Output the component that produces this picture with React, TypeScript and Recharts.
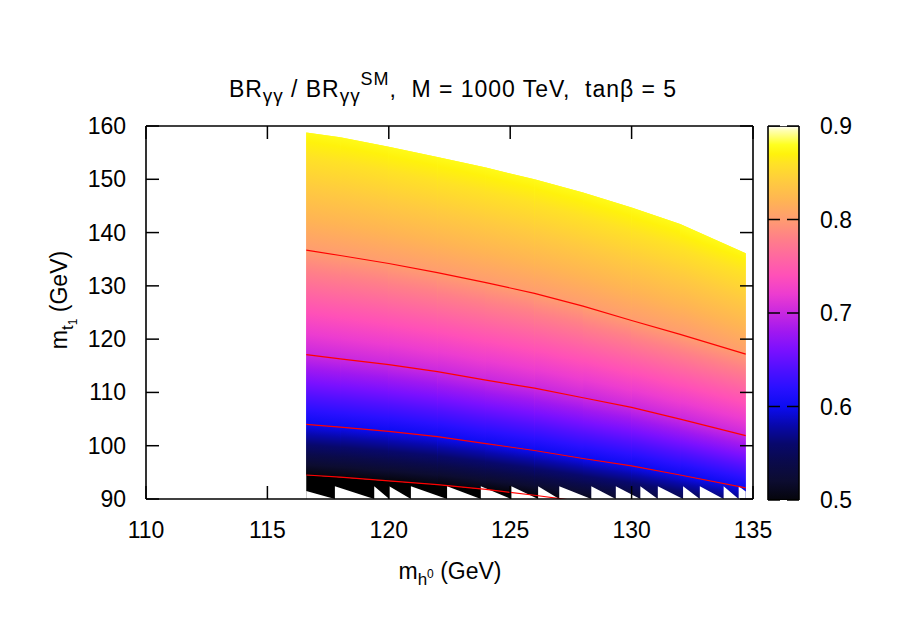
import React from 'react';
import { ComposedChart, Area, Line, Bar, XAxis, YAxis } from 'recharts';

const FONT = '"Liberation Sans", Arial, Helvetica, sans-serif';

// axis ticks
const xTicks = [110, 115, 120, 125, 130, 135];
const yTicks = [90, 100, 110, 120, 130, 140, 150, 160];
const cbTicks = [0.5, 0.6, 0.7, 0.8, 0.9];

// m_h0 columns where the surface was read
const mh = [116.6, 118, 120, 122, 124, 126, 128, 130, 132, 134.7];
// upper edge of the scanned region
const topEdge = [158.8, 157.9, 156.1, 154.2, 152.2, 150.0, 147.5, 144.7, 141.6, 136.1];
// contour lines of BR/BR_SM
const c80 = [136.7, 135.7, 134.2, 132.5, 130.6, 128.6, 126.2, 123.5, 120.9, 117.2];
const c70 = [117.1, 116.3, 115.2, 113.9, 112.3, 110.8, 109.0, 107.2, 105.0, 101.9];
const c60 = [104.0, 103.5, 102.7, 101.7, 100.4, 99.1, 97.6, 96.2, 94.5, 92.1];
const c50 = [94.5, 94.1, 93.4, 92.7, 91.8, 90.7, 89.5, 88.2, 86.8, 84.8];
const topLevel = 0.876;

// ragged lower edge (pm3d sawtooth)
const toothX = [117.78, 119.4, 120.02, 120.91, 122.4, 123.79, 125.05, 126.15, 127.02, 128.34, 129.35, 130.36, 131.08, 132.12, 132.81, 133.79, 134.41];
const toothTop = 92.4;
const edgeStart = 91.5;
const edgeEnd = 91.4;

// palette (colour box)
const palVals = [0.5, 0.52, 0.54, 0.56, 0.58, 0.6, 0.62, 0.64, 0.66, 0.68, 0.7, 0.72, 0.74, 0.76, 0.78, 0.8, 0.82, 0.84, 0.86, 0.87, 0.88, 0.895, 0.9];
const palColors = ['#05050c', '#0c0c30', '#0a0a4a', '#08086c', '#0808ac', '#0c0cf2', '#2a10ff', '#5010ff', '#7a10ff', '#a018f0', '#c828e0', '#ec3cd0', '#ff50b8', '#ff68a0', '#ff8088', '#ff9c70', '#ffb454', '#ffca40', '#ffe226', '#fff20c', '#ffff20', '#ffffb0', '#ffffff'];

const rows = mh.map((x, i) => ({ x, top: topEdge[i], c80: c80[i], c70: c70[i], c60: c60[i], c50: c50[i] }));

const teeth = [
  { x: mh[0], y: edgeStart },
  ...toothX.flatMap((t) => [{ x: t, y: yTicks[0] }, { x: t, y: toothTop }]),
  { x: mh[mh.length - 1], y: edgeEnd },
];

type Row = (typeof rows)[number];
const bands = [
  { id: 'b1', lo: (r: Row) => r.c50, hi: (r: Row) => r.c60, vLo: 0.5, vHi: 0.6 },
  { id: 'b2', lo: (r: Row) => r.c60, hi: (r: Row) => r.c70, vLo: 0.6, vHi: 0.7 },
  { id: 'b3', lo: (r: Row) => r.c70, hi: (r: Row) => r.c80, vLo: 0.7, vHi: 0.8 },
  { id: 'b4', lo: (r: Row) => r.c80, hi: (r: Row) => r.top, vLo: 0.8, vHi: topLevel },
];

function colorAt(v: number) {
  for (let i = 1; i < palVals.length; i++) {
    if (v <= palVals[i]) {
      const t = (v - palVals[i - 1]) / (palVals[i] - palVals[i - 1]);
      const a = palColors[i - 1], b = palColors[i];
      const ch = (s: string, k: number) => parseInt(s.slice(1 + 2 * k, 3 + 2 * k), 16);
      const c = [0, 1, 2].map((k) => Math.round(ch(a, k) + (ch(b, k) - ch(a, k)) * t));
      return `rgb(${c.join(',')})`;
    }
  }
  return palColors[palColors.length - 1];
}

function bandStops(lo: number, hi: number) {
  const vals = [hi, ...palVals.filter((v) => v > lo && v < hi).reverse(), lo];
  return vals.map((v, i) => <stop key={i} offset={(hi - v) / (hi - lo)} stopColor={colorAt(v)} />);
}

// gradient tilted along the band inside the piece's bounding box
function tiltedGradient(id: string, b: (typeof bands)[number], r0: Row, r1: Row) {
  const ymax = Math.max(b.hi(r0), b.hi(r1));
  const ymin = Math.min(b.lo(r0), b.lo(r1));
  const f = (v: number) => (ymax - v) / (ymax - ymin);
  const t0 = f(b.hi(r0)), t1 = f(b.hi(r1)), l0 = f(b.lo(r0)), l1 = f(b.lo(r1));
  const s = ((t1 - t0) + (l1 - l0)) / 2;
  const py = (t0 + t1) / 2;
  const h = (l0 + l1) / 2 - py;
  const k = h / (1 + s * s);
  return (
    <linearGradient key={id} id={id} x1={0.5} y1={py} x2={0.5 - s * k} y2={py + k}>
      {bandStops(b.vLo, b.vHi)}
    </linearGradient>
  );
}

const BottomTick = ({ x, y, payload }: any) => (
  <g>
    <line x1={x} y1={y} x2={x} y2={y - 13} stroke="#000" strokeWidth={1.5} />
    <text x={x} y={y + 39} textAnchor="middle" fontSize={23} fontFamily={FONT} fill="#000">{payload.value}</text>
  </g>
);
const TopTick = ({ x, y }: any) => <line x1={x} y1={y} x2={x} y2={y + 13} stroke="#000" strokeWidth={1.5} />;
const LeftTick = ({ x, y, payload }: any) => (
  <g>
    <line x1={x} y1={y} x2={x + 13} y2={y} stroke="#000" strokeWidth={1.5} />
    <text x={x - 20} y={y + 8} textAnchor="end" fontSize={23} fontFamily={FONT} fill="#000">{payload.value}</text>
  </g>
);
const RightTick = ({ x, y }: any) => <line x1={x} y1={y} x2={x - 13} y2={y} stroke="#000" strokeWidth={1.5} />;
const CbRightTick = ({ x, y, payload }: any) => (
  <g>
    <line x1={x} y1={y} x2={x - 12} y2={y} stroke="#000" strokeWidth={1.5} />
    <text x={x + 21} y={y + 8} textAnchor="start" fontSize={23} fontFamily={FONT} fill="#000">{Number(payload.value).toFixed(1)}</text>
  </g>
);
const CbLeftTick = ({ x, y }: any) => <line x1={x} y1={y} x2={x + 12} y2={y} stroke="#000" strokeWidth={1.5} />;

const cbData = [{ name: 'cb', range: [cbTicks[0], cbTicks[cbTicks.length - 1]] }];
const cbMargin = { top: 126, right: 41, bottom: 128, left: 758 };

export default function App() {
  const abs: React.CSSProperties = { position: 'absolute', left: 0, top: 0 };
  return (
    <div style={{ position: 'absolute', left: 0, top: 0, width: 900, height: 628, background: '#fff' }}>
      <div style={abs}>
        <ComposedChart width={900} height={628} margin={{ top: 116, right: 137, bottom: 89, left: 86 }}>
          <defs>
            {bands.map((b) => tiltedGradient(`g-${b.id}`, b, rows[0], rows[rows.length - 1]))}
            {bands.flatMap((b) => rows.slice(0, -1).map((r, i) => tiltedGradient(`g-${b.id}-${i}`, b, r, rows[i + 1])))}
          </defs>
          <XAxis xAxisId="b" type="number" dataKey="x" domain={[110, 135]} ticks={xTicks} interval={0} allowDataOverflow
            height={40} tickSize={0} tickMargin={0} tickLine={false} tick={<BottomTick />} axisLine={{ stroke: '#000', strokeWidth: 1.6 }} />
          <XAxis xAxisId="t" orientation="top" type="number" dataKey="x" domain={[110, 135]} ticks={xTicks} interval={0} allowDataOverflow
            height={10} tickSize={0} tickMargin={0} tickLine={false} tick={<TopTick />} axisLine={{ stroke: '#000', strokeWidth: 1.6 }} />
          <YAxis yAxisId="l" type="number" domain={[90, 160]} ticks={yTicks} interval={0} allowDataOverflow
            width={60} tickSize={0} tickMargin={0} tickLine={false} tick={<LeftTick />} axisLine={{ stroke: '#000', strokeWidth: 1.6 }} />
          <YAxis yAxisId="r" orientation="right" type="number" domain={[90, 160]} ticks={yTicks} interval={0} allowDataOverflow
            width={10} tickSize={0} tickMargin={0} tickLine={false} tick={<RightTick />} axisLine={{ stroke: '#000', strokeWidth: 1.6 }} />

          <Area xAxisId="b" yAxisId="l" data={rows} dataKey={(r: Row) => [yTicks[0], r.c50]} type="linear"
            fill="#000" fillOpacity={1} stroke="none" isAnimationActive={false} />
          {/* whole-band backing so the strip seams stay faint */}
          {bands.map((b) => (
            <Area key={`${b.id}-back`} xAxisId="b" yAxisId="l" data={rows}
              dataKey={(r: Row) => [b.lo(r), b.hi(r)]} type="linear"
              fill={`url(#g-${b.id})`} fillOpacity={1} stroke="none" isAnimationActive={false} />
          ))}
          {bands.flatMap((b) =>
            rows.slice(0, -1).map((_, i) => (
              <Area key={`${b.id}-${i}`} xAxisId="b" yAxisId="l" data={rows.slice(i, i + 2)}
                dataKey={(r: Row) => [b.lo(r), b.hi(r)]} type="linear"
                fill={`url(#g-${b.id}-${i})`} fillOpacity={1} stroke="none" isAnimationActive={false} />
            ))
          )}
          <Area xAxisId="b" yAxisId="l" data={teeth} dataKey="y" baseValue={yTicks[0]} type="linear"
            fill="#fff" fillOpacity={1} stroke="none" isAnimationActive={false} />
          {['c80', 'c70', 'c60', 'c50'].map((k) => (
            <Line key={k} xAxisId="b" yAxisId="l" data={rows} dataKey={k} type="linear" stroke="#ff0000"
              strokeWidth={1.2} dot={false} activeDot={false} isAnimationActive={false} />
          ))}
        </ComposedChart>
      </div>
      <div style={abs}>
        <ComposedChart width={900} height={628} data={cbData} margin={cbMargin} barCategoryGap={0}>
          <defs>
            <linearGradient id="cbGrad" x1="0" y1="0" x2="0" y2="1">
              {bandStops(cbTicks[0], cbTicks[cbTicks.length - 1])}
            </linearGradient>
          </defs>
          <XAxis dataKey="name" hide />
          <YAxis yAxisId="l" type="number" domain={[0.5, 0.9]} allowDataOverflow width={10} tick={false} tickLine={false} axisLine={false} />
          <YAxis yAxisId="r" orientation="right" type="number" domain={[0.5, 0.9]} allowDataOverflow width={60} tick={false} tickLine={false} axisLine={false} />
          <Bar yAxisId="l" dataKey="range" fill="url(#cbGrad)" stroke="#000" strokeWidth={1.6} isAnimationActive={false} />
        </ComposedChart>
      </div>
      <div style={abs}>
        <ComposedChart width={900} height={628} data={cbData} margin={cbMargin}>
          <XAxis dataKey="name" hide />
          <YAxis yAxisId="l" type="number" domain={[0.5, 0.9]} ticks={cbTicks} interval={0} allowDataOverflow width={10}
            tickSize={0} tickMargin={0} tickLine={false} tick={<CbLeftTick />} axisLine={false} />
          <YAxis yAxisId="r" orientation="right" type="number" domain={[0.5, 0.9]} ticks={cbTicks} interval={0} allowDataOverflow width={60}
            tickSize={0} tickMargin={0} tickLine={false} tick={<CbRightTick />} axisLine={false} />
        </ComposedChart>
      </div>
      <svg width={900} height={628} style={{ ...abs, pointerEvents: 'none' }} fontFamily={FONT}>
        <text x={229} y={97} textAnchor="start" fontSize={23} fill="#000" textLength={447} lengthAdjust="spacing" style={{ whiteSpace: 'pre' }}>
          <tspan>BR</tspan>
          <tspan dy={5} fontSize={19}>γγ</tspan>
          <tspan dy={-5}> / BR</tspan>
          <tspan dy={5} fontSize={19}>γγ</tspan>
          <tspan dy={-17} fontSize={18}>SM</tspan>
          <tspan dy={12}>,  M = 1000 TeV,  tanβ = 5</tspan>
        </text>
        <text x={450} y={579} textAnchor="middle" fontSize={23} fill="#000" style={{ whiteSpace: 'pre' }}>
          <tspan>m</tspan>
          <tspan dy={6} fontSize={17}>h</tspan>
          <tspan dy={-7} fontSize={12}>0</tspan>
          <tspan dy={1}> (GeV)</tspan>
        </text>
        <text x={67} y={300} transform="rotate(-90, 67, 300)" textAnchor="middle" fontSize={23} fill="#000" style={{ whiteSpace: 'pre' }}>
          <tspan>m</tspan>
          <tspan dy={6} fontSize={17}>t</tspan>
          <tspan dy={4} fontSize={12}>1</tspan>
          <tspan dy={-10}> (GeV)</tspan>
        </text>
      </svg>
    </div>
  );
}
